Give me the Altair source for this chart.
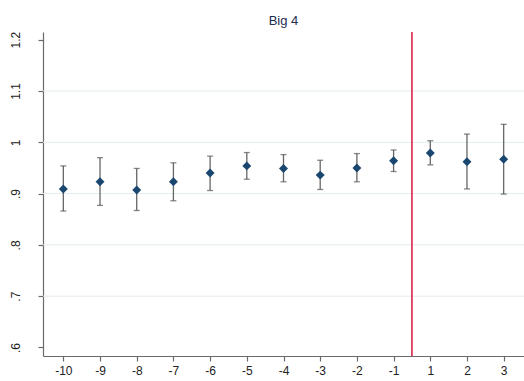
import json
import altair as alt
import pandas as pd

# ---- data ----
periods = ["-10", "-9", "-8", "-7", "-6", "-5", "-4", "-3", "-2", "-1", "1", "2", "3"]
estimate = [0.909, 0.923, 0.907, 0.923, 0.940, 0.954, 0.949, 0.936, 0.950, 0.964, 0.979, 0.962, 0.967]
upper = [0.954, 0.970, 0.949, 0.960, 0.973, 0.980, 0.976, 0.965, 0.978, 0.985, 1.003, 1.016, 1.035]
lower = [0.866, 0.877, 0.867, 0.886, 0.906, 0.928, 0.923, 0.908, 0.923, 0.943, 0.956, 0.909, 0.899]
y_ticks = [0.6, 0.7, 0.8, 0.9, 1.0, 1.1, 1.2]
y_tick_labels = [".6", ".7", ".8", ".9", "1", "1.1", "1.2"]
grid_values = [0.7, 0.8, 0.9, 1.0, 1.1]
event_break = [9.5]  # between period -1 and period 1
title_text = "Big 4"

df = pd.DataFrame({
    "pos": list(range(len(periods))),
    "period": periods,
    "est": estimate,
    "hi": upper,
    "lo": lower,
})
grid_df = pd.DataFrame({"g": grid_values})
vline_df = pd.DataFrame({"v": event_break})

FONT = "Liberation Sans"
xlab_expr = json.dumps(periods) + "[round(datum.value)]"
ylab_expr = json.dumps(y_tick_labels) + "[round((datum.value - 0.6) * 10)]"

x_scale = alt.Scale(domain=[-0.554, len(periods) - 1 + 0.554], nice=False, zero=False)
y_scale = alt.Scale(domain=[0.5834, 1.215], nice=False, zero=False)

x_axis = alt.Axis(
    values=list(range(len(periods))), labelExpr=xlab_expr, title=None, grid=False,
    tickSize=5, labelPadding=4, labelFont=FONT, labelFontSize=12, labelColor="#222222",
    domainColor="#6a6a6a", tickColor="#6a6a6a", domainWidth=1.2, tickWidth=1.2,
)
y_axis = alt.Axis(
    values=y_ticks, labelExpr=ylab_expr, title=None, grid=False,
    labelAngle=270, labelAlign="center", labelBaseline="alphabetic",
    tickSize=5, labelPadding=19, labelFont=FONT, labelFontSize=12, labelColor="#222222",
    domainColor="#6a6a6a", tickColor="#6a6a6a", domainWidth=1.2, tickWidth=1.2,
)

grid = alt.Chart(grid_df).mark_rule(color="#e3ecef", strokeWidth=1).encode(
    y=alt.Y("g:Q", scale=y_scale, axis=y_axis)
)

vline = alt.Chart(vline_df).mark_rule(color="#d4163c", strokeWidth=1.5).encode(
    x=alt.X("v:Q", scale=x_scale, axis=x_axis)
)

base = alt.Chart(df)
whisker = base.mark_rule(color="#666666", strokeWidth=1.3).encode(
    x=alt.X("pos:Q", scale=x_scale, axis=x_axis),
    y=alt.Y("lo:Q", scale=y_scale, axis=y_axis),
    y2="hi:Q",
)
cap_hi = base.mark_tick(color="#555555", orient="horizontal", size=6, thickness=1.3).encode(
    x=alt.X("pos:Q", scale=x_scale),
    y=alt.Y("hi:Q", scale=y_scale),
)
cap_lo = base.mark_tick(color="#555555", orient="horizontal", size=6, thickness=1.3).encode(
    x=alt.X("pos:Q", scale=x_scale),
    y=alt.Y("lo:Q", scale=y_scale),
)
points = base.mark_point(shape="diamond", filled=True, size=80, color="#1a476f", opacity=1).encode(
    x=alt.X("pos:Q", scale=x_scale),
    y=alt.Y("est:Q", scale=y_scale),
)

chart = alt.layer(grid, vline, whisker, cap_hi, cap_lo, points).properties(
    width=481,
    height=324,
    padding={"left": 43, "top": 32, "right": 0, "bottom": 25},
    autosize=alt.AutoSizeParams(type="none"),
    background="white",
    title=alt.TitleParams(
        text=title_text, font=FONT, fontSize=13, fontWeight="normal", color="#1e2d50",
        anchor="middle", baseline="middle", offset=0, dy=3,
    ),
).configure_view(stroke=None)

chart.save("out.html", embed_options={"renderer": "svg", "actions": False})
